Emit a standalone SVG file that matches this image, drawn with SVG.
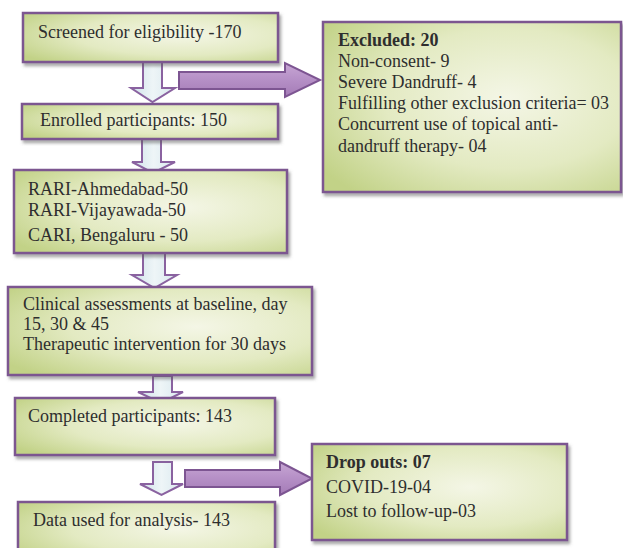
<svg xmlns="http://www.w3.org/2000/svg" width="623" height="548" viewBox="0 0 623 548">
<defs>
<radialGradient id="boxg" cx="62%" cy="45%" r="75%">
<stop offset="0" stop-color="#f4f6e6"/>
<stop offset="0.55" stop-color="#e3eac2"/>
<stop offset="1" stop-color="#c2d287"/>
</radialGradient>
<linearGradient id="downg" x1="0" y1="0" x2="1" y2="0">
<stop offset="0" stop-color="#cfe2ea"/>
<stop offset="0.5" stop-color="#eef5f7"/>
<stop offset="1" stop-color="#d8e8ee"/>
</linearGradient>
<linearGradient id="rightg" x1="0" y1="0" x2="0" y2="1">
<stop offset="0" stop-color="#c7a6d4"/>
<stop offset="0.5" stop-color="#b58fc6"/>
<stop offset="1" stop-color="#a47bb6"/>
</linearGradient>
<filter id="sh" x="-5%" y="-5%" width="115%" height="125%">
<feDropShadow dx="2" dy="3" stdDeviation="1.5" flood-color="#555" flood-opacity="0.5"/>
</filter>
</defs>
<style>
.box{fill:url(#boxg);stroke:#7b5790;stroke-width:2.5;filter:url(#sh)}
.down{fill:url(#downg);stroke:#8a62a0;stroke-width:2;stroke-linejoin:miter}
.right{fill:url(#rightg);stroke:#7d5592;stroke-width:2}
text{font-family:"Liberation Serif","Times New Roman",serif;font-size:18px;fill:#2e2e2e}
.b{font-weight:bold}
</style>
<rect width="623" height="548" fill="#ffffff"/>
<g id="connectors">
<path class="down" d="M143,62 L162,62 L162,88 L175,88 L152.5,102 L131,88 L143,88 Z"/>
<path class="down" d="M142,139 L161,139 L161,162 L175,162 L153,173 L132,162 L142,162 Z"/>
<path class="down" d="M143,253 L165,253 L165,275 L177,275 L154.5,288 L132,275 L143,275 Z"/>
<path class="down" d="M153,376 L172,376 L172,392 L183,392 L161,403 L138,392 L153,392 Z"/>
<path class="down" d="M153,462 L172,462 L172,484 L183,484 L161.5,495 L140,484 L153,484 Z"/>
<path class="right" d="M179,72 L285,72 L285,63 L320,80 L285,97 L285,89 L179,89 Z"/>
<path class="right" d="M185,470 L280,470 L280,462 L312,478.5 L280,495 L280,487 L185,487 Z"/>
</g>
<g id="screened">
<rect class="box" x="23" y="13" width="255" height="49"/>
<text x="38" y="38">Screened for eligibility -170</text>
</g>
<g id="excluded">
<rect class="box" x="323" y="22" width="298" height="170"/>
<text x="338" y="46" class="b">Excluded: 20</text>
<text x="338" y="67">Non-consent- 9</text>
<text x="338" y="88">Severe Dandruff- 4</text>
<text x="338" y="109">Fulfilling other exclusion criteria= 03</text>
<text x="338" y="130">Concurrent use of topical anti-</text>
<text x="338" y="152">dandruff therapy- 04</text>
</g>
<g id="enrolled">
<rect class="box" x="22" y="104" width="256" height="35"/>
<text x="40" y="126">Enrolled participants: 150</text>
</g>
<g id="centres">
<rect class="box" x="14" y="170" width="273" height="83"/>
<text x="28" y="195">RARI-Ahmedabad-50</text>
<text x="28" y="216">RARI-Vijayawada-50</text>
<text x="28" y="241">CARI, Bengaluru - 50</text>
</g>
<g id="clinical">
<rect class="box" x="8" y="287" width="304" height="88"/>
<text x="23" y="310">Clinical assessments at baseline, day</text>
<text x="23" y="330">15, 30 &amp; 45</text>
<text x="23" y="350">Therapeutic intervention for 30 days</text>
</g>
<g id="completed">
<rect class="box" x="15" y="398" width="260" height="57"/>
<text x="28" y="422">Completed participants: 143</text>
</g>
<g id="dropouts">
<rect class="box" x="312" y="444" width="255" height="96"/>
<text x="326" y="468" class="b">Drop outs: 07</text>
<text x="326" y="493">COVID-19-04</text>
<text x="326" y="517">Lost to follow-up-03</text>
</g>
<g id="data">
<rect class="box" x="18" y="502" width="257" height="60"/>
<text x="33" y="526">Data used for analysis- 143</text>
</g>
</svg>
